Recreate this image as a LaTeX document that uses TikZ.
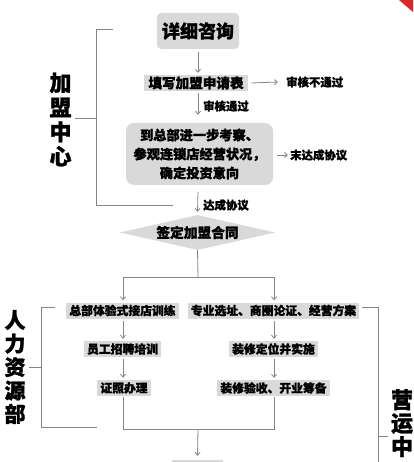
\documentclass[tikz,border=0pt]{standalone}
\usepackage{fontspec}
\setmainfont{Noto Sans CJK SC}[BoldFeatures={FakeBold=1.2}]
\usetikzlibrary{shapes.geometric,arrows.meta}
\definecolor{boxgray}{HTML}{D9D9D9}
\definecolor{linegray}{HTML}{858585}
\definecolor{cornerred}{HTML}{D62A2A}
\begin{document}
\begin{tikzpicture}[x=1pt,y=-1pt,
  every node/.style={font=\bfseries},
  gbox/.style={fill=boxgray,inner xsep=3pt,inner ysep=0pt,minimum height=16pt,font=\bfseries\fontsize{11.8}{13}\selectfont},
  topbox/.style={fill=boxgray,rounded corners=4pt,minimum width=82pt,minimum height=36pt,font=\bfseries\fontsize{18}{20}\selectfont},
  midbox/.style={fill=boxgray,inner xsep=4.5pt,inner ysep=0pt,minimum height=16pt,font=\bfseries\fontsize{13.6}{15}\selectfont},
  lab/.style={inner sep=0pt,anchor=west,font=\bfseries\fontsize{11.4}{13}\selectfont},
  side/.style={inner sep=0pt,align=center},
  conn/.style={draw=linegray,line width=0.8pt},
  arr/.style={conn,-{Straight Barb[length=3pt,width=5pt]}},
  brk/.style={draw=linegray,line width=0.9pt}]
\useasboundingbox (0,0) rectangle (413,462);
\clip (0,0) rectangle (413,462);
\fill[white] (0,0) rectangle (413,462);
% red corner
\fill[cornerred] (399,0) -- (413,0) -- (413,12) -- cycle;
% top part
\node[topbox] (zx) at (198,31) {详细咨询};
\node[midbox] (sq) at (196,83) {填写加盟申请表};
\node[lab] (bt) at (286,82) {审核不通过};
\node[fill=boxgray,rounded corners=8pt,minimum width=147pt,minimum height=62pt,align=center,inner sep=0pt,
      font=\bfseries\fontsize{13.2}{19}\selectfont] (kc) at (199.5,154) {到总部进一步考察、\\参观连锁店经营状况，\\确定投资意向};
\node[lab] (wd) at (290,155) {末达成协议};
\node[diamond,fill=boxgray,aspect=4.4,minimum width=155pt,minimum height=35pt,inner sep=0pt,
      font=\bfseries\fontsize{13.7}{15}\selectfont] (dm) at (197.5,232.5) {签定加盟合同};
\node[lab] (tg) at (203,106) {审核通过};
\node[lab] (dc) at (203,205) {达成协议};
\draw[arr] ([yshift=-3pt]zx.south) -- ([yshift=2pt]sq.north -| zx.south);
\draw[arr] ([yshift=-2pt]sq.south -| zx.south) -- ([yshift=8pt]kc.north -| zx.south);
\draw[arr] ([xshift=3pt]sq.east) -- ([xshift=-8pt]bt.west);
\draw[arr] ([xshift=4pt]kc.east |- wd.west) -- ([xshift=-2pt]wd.west);
\draw[arr] ([yshift=-7pt]kc.south -| zx.south) -- ([yshift=3pt]dm.north);
% fork
\coordinate (f) at (198,277);
\coordinate (fl) at (123,277);
\coordinate (fr) at (274,277);
\node[gbox] (a1) at (122.5,310.5) {总部体验式接店训练};
\node[gbox] (b1) at (273.5,310.5) {专业选址、商圈论证、经营方案};
\node[gbox] (a2) at (122.5,349) {员工招聘培训};
\node[gbox] (b2) at (273.5,349) {装修定位并实施};
\node[gbox] (a3) at (124,388) {证照办理};
\node[gbox] (b3) at (273.5,388) {装修验收、开业筹备};
\draw[conn] (dm.south) -- (f);
\draw[conn] (fl) -- (fr);
\draw[arr] (fl) -- ([yshift=2pt]fl |- a1.north);
\draw[arr] (fr) -- ([yshift=2pt]fr |- b1.north);
\draw[arr] ([yshift=-2pt]fl |- a1.south) -- ([yshift=2pt]fl |- a2.north);
\draw[arr] ([yshift=-2pt]fr |- b1.south) -- ([yshift=2pt]fr |- b2.north);
\draw[arr] ([yshift=-2pt]fl |- a2.south) -- ([yshift=2pt]fl |- a3.north);
\draw[arr] ([yshift=-2pt]fr |- b2.south) -- ([yshift=2pt]fr |- b3.north);
% merge
\coordinate (ml) at (123,429);
\coordinate (mr) at (274,429);
\coordinate (m) at (198,429);
\node[fill=boxgray,minimum width=51pt,minimum height=16pt,inner sep=0pt] (eb) at (197.5,468) {};
\draw[conn] ([yshift=-1pt]fl |- a3.south) -- (ml) -- (mr) -- ([yshift=-1pt]fr |- b3.south);
\draw[arr] (m) -- ([yshift=4pt]eb.north);
% brackets
\draw[brk] (113,29) -- (96,29) -- (96,205) -- (173,205);
\draw[brk] (75,118) -- (96,118);
\draw[brk] (55,307) -- (41,307) -- (41,427) -- (97,427);
\draw[brk] (29,367) -- (41,367);
\draw[brk] (362,307) -- (378,307) -- (378,470);
\draw[brk] (378,436) -- (388,436);
% side labels
\node[side,font=\bfseries\fontsize{22}{24.5}\selectfont] (jm) at (60.5,119.5) {加\\盟\\中\\心};
\node[side,font=\bfseries\fontsize{21}{23.5}\selectfont] (rl) at (15,367) {人\\力\\资\\源\\部};
\node[side,font=\bfseries\fontsize{22}{23.5}\selectfont,anchor=north] (yy) at (402,389) {营\\运\\中};
\end{tikzpicture}
\end{document}
